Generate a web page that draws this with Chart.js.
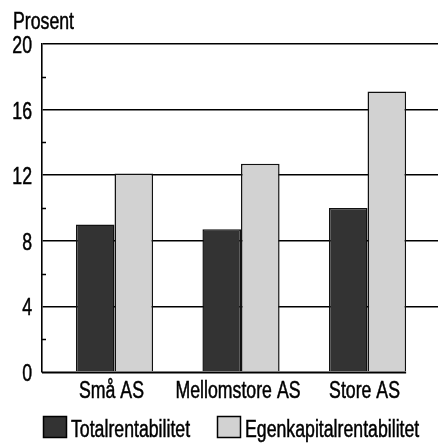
<!DOCTYPE html>
<html>
<head>
<meta charset="utf-8">
<script src="https://cdn.jsdelivr.net/npm/chart.js@4"></script>
<style>
  html, body { margin: 0; padding: 0; background: #fff; }
  #wrap { width: 438px; height: 443px; }
</style>
</head>
<body>
<div id="wrap"><canvas id="rent-chart" width="438" height="443"></canvas></div>
<script>
// rentabilitet etter foretaksstorrelse, prosent

const categories = ["Små AS", "Mellomstore AS", "Store AS"];
const totalRent = [9.0, 8.7, 10.0];
const egenkapRent = [12.1, 12.7, 17.1];
const seriesNames = ["Totalrentabilitet", "Egenkapitalrentabilitet"];
const yMajorTicks = [0, 4, 8, 12, 16, 20];
const yMinorTicks = [2, 6, 10, 14, 18];

// no narrow font installed, so squeeze Liberation Sans like a condensed face
const FONT = '23px "Liberation Sans", Arial, sans-serif';
const SQUEEZE = 0.77;

function narrowText(ctx, text, x, y, align) {
  ctx.save();
  ctx.font = FONT;
  const w = ctx.measureText(text).width * SQUEEZE;
  let left = x;
  if (align === "right") left = x - w;
  if (align === "center") left = x - w / 2;
  ctx.translate(left, y);
  ctx.scale(SQUEEZE, 1);
  ctx.textAlign = "left";
  ctx.fillText(text, 0, 0);
  // a touch heavier, the print face is darker
  ctx.lineWidth = 0.5;
  ctx.strokeStyle = ctx.fillStyle;
  ctx.strokeText(text, 0, 0);
  ctx.restore();
}

// y title, tick labels, minor ticks, baseline and legend
const extras = {
  id: "extras",
  afterDraw(chart) {
    const ctx = chart.ctx;
    const area = chart.chartArea;
    const y = chart.scales.y;
    const x = chart.scales.x;
    ctx.save();
    ctx.fillStyle = "#000";
    ctx.textBaseline = "alphabetic";
    narrowText(ctx, "Prosent", 13, 29, "left");

    // y labels
    yMajorTicks.forEach(v => {
      narrowText(ctx, String(v), 32, y.getPixelForValue(v) + 9, "right");
    });

    // x labels
    categories.forEach((c, i) => {
      narrowText(ctx, c, x.getPixelForValue(i) - 3, 398, "center");
    });

    // minor ticks inside axis
    ctx.strokeStyle = "#000";
    ctx.lineWidth = 1.5;
    yMinorTicks.forEach(v => {
      const py = Math.round(y.getPixelForValue(v)) + 0.5;
      ctx.beginPath();
      ctx.moveTo(area.left, py);
      ctx.lineTo(area.left + 4, py);
      ctx.stroke();
    });

    // baseline up to the last bar
    const lastMeta = chart.getDatasetMeta(1);
    const lastBar = lastMeta.data[lastMeta.data.length - 1];
    const by = Math.round(y.getPixelForValue(0)) + 0.5;
    ctx.lineWidth = 2;
    ctx.beginPath();
    ctx.moveTo(area.left, by);
    ctx.lineTo(lastBar.x + lastBar.width / 2, by);
    ctx.stroke();

    // legend
    const items = [
      { x: 43, w: 24, tx: 71 },
      { x: 217, w: 24, tx: 245 }
    ];
    chart.data.datasets.forEach((ds, i) => {
      const it = items[i];
      ctx.fillStyle = ds.backgroundColor;
      ctx.fillRect(it.x, 416, it.w, 22);
      ctx.lineWidth = 1.5;
      ctx.strokeStyle = "#000";
      ctx.strokeRect(it.x + 0.5, 416.5, it.w - 1, 21);
      ctx.fillStyle = "#000";
      narrowText(ctx, ds.label, it.tx, 437, "left");
    });
    ctx.restore();
  }
};

document.addEventListener("DOMContentLoaded", () => {
  const ctx = document.getElementById("rent-chart");

  new Chart(ctx, {
    type: "bar",
    data: {
      datasets: [
        {
          label: seriesNames[0],
          data: totalRent.map((v, i) => ({ x: i, y: v })),
          backgroundColor: "#333333",
          borderColor: "#111",
          borderWidth: 1.5
        },
        {
          label: seriesNames[1],
          data: egenkapRent.map((v, i) => ({ x: i, y: v })),
          backgroundColor: "#d2d2d2",
          borderColor: "#111",
          borderWidth: 1.5
        }
      ]
    },
    options: {
      responsive: false,
      animation: false,
      layout: { padding: { top: 44, left: 0, right: 0, bottom: 0 } },
      categoryPercentage: 0.61,
      barPercentage: 1.0,
      plugins: {
        legend: { display: false },
        tooltip: { enabled: false }
      },
      scales: {
        x: {
          type: "linear",
          offset: false,
          min: -0.573,
          max: 2.557,
          afterBuildTicks: (s) => { s.ticks = categories.map((c, i) => ({ value: i })); },
          afterFit: (s) => { s.height = 71; },
          grid: { display: false, drawTicks: false },
          border: { display: false },
          ticks: { display: false }
        },
        y: {
          min: 0,
          max: 20,
          afterBuildTicks: (s) => { s.ticks = yMajorTicks.map(v => ({ value: v })); },
          afterFit: (s) => { s.width = 42; },
          grid: {
            drawTicks: false,
            color: (c) => (c.tick && c.tick.value === 0 ? "rgba(0,0,0,0)" : "#000"),
            lineWidth: 1.6
          },
          border: { display: true, color: "#000", width: 1.6 },
          ticks: { display: false }
        }
      }
    },
    plugins: [extras]
  });
});
</script>
</body>
</html>
